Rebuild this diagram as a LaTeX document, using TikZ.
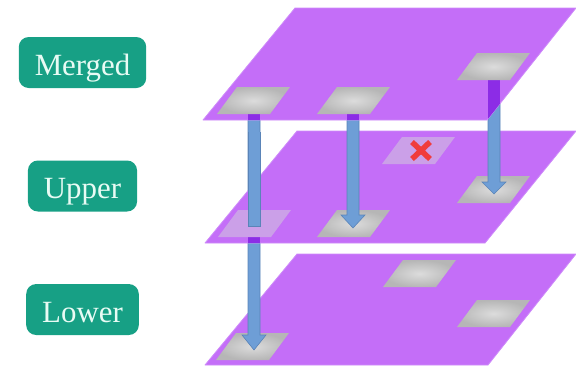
\documentclass[tikz,border=0pt]{standalone}
\usepackage{fontspec}
\setmainfont{Liberation Serif}
\definecolor{plane}{HTML}{C46EF8}
\definecolor{planeedge}{HTML}{CE8CFA}
\definecolor{shaft}{HTML}{6E9ED6}
\definecolor{shaftedge}{HTML}{5A84B8}
\definecolor{deep}{HTML}{8C2CE6}
\definecolor{labelfill}{HTML}{17A085}
\definecolor{labeltext}{HTML}{E8FBF4}
\definecolor{crossred}{HTML}{F03C3C}
\definecolor{patchin}{HTML}{DCDCDC}
\definecolor{patchout}{HTML}{B6B6B6}
\definecolor{faded}{HTML}{CBA0E8}
\newcommand\patchP[2]{\shade[inner color=patchin,outer color=patchout] (#1,#2) -- ++(53,0) -- ++(20,-27) -- ++(-53,0) -- cycle;}
\newcommand\fadedP[2]{\fill[faded] (#1,#2) -- ++(53,0) -- ++(20,-27) -- ++(-53,0) -- cycle;}
\newcommand\arrowP[4]{\filldraw[fill=shaft,draw=shaftedge,line width=0.6bp,line join=miter]
  ({#1-6},#2) -- ({#1-6},#3) -- ({#1-12},#3) -- (#1,#4) -- ({#1+12},#3) -- ({#1+6},#3) -- ({#1+6},#2) -- cycle;}
\tikzset{
  planestyle/.style={fill=plane,draw=planeedge,line width=0.8bp,line join=round},
  labelbox/.style={fill=labelfill,rounded corners=10bp,text=labeltext,inner xsep=16bp,
    minimum height=51bp,text height=25bp,text depth=0bp,font=\fontsize{31}{32}\selectfont},
}
\begin{document}
\begin{tikzpicture}[x=1bp,y=-1bp]
\useasboundingbox (0,0) rectangle (576,365);
% lower plane
\path[planestyle] (205,365) -- (488,365) -- (576,254) -- (297,254) -- cycle;
\patchP{216}{360}
\patchP{383}{287}
\patchP{457}{327}
% long arrow (full, later partly covered)
\arrowP{254}{114}{335}{350}
% upper plane
\path[planestyle] (205,243) -- (485,243) -- (576,131) -- (297,131) -- cycle;
\fill[deep] (248,226) rectangle (260,242.5);
\fadedP{218}{237}
\fadedP{382}{164}
\draw[crossred,line width=5.5bp] (412,142) -- (430,159) (430,142) -- (412,159);
\patchP{317}{237}
\patchP{457}{203}
% front part of long arrow over upper plane
\fill[shaft] (248,131.5) rectangle (260,226);
\draw[shaftedge,line width=0.6bp] (248,131.5) -- (248,226) -- (260,226) -- (260,131.5);
% short arrows
\arrowP{353}{114}{215}{228}
\arrowP{494}{80}{182}{194}
% merged plane
\path[planestyle] (203,120) -- (487,120) -- (576,8) -- (295,8) -- cycle;
\begin{scope}
\clip (203,120) -- (487,120) -- (576,8) -- (295,8) -- cycle;
\fill[deep] (248,110) rectangle (260,119.6);
\fill[deep] (347,110) rectangle (359,119.6);
\fill[deep] (488,76) rectangle (500,119.6);
\end{scope}
\patchP{217}{114}
\patchP{317}{114}
\patchP{457}{80}
% labels
\node[labelbox] (merged) at (82.5,62.5) {Merged};
\node[labelbox] (upper) at (82.5,186) {Upper};
\node[labelbox] (lower) at (82.5,309.5) {Lower};
\end{tikzpicture}
\end{document}
